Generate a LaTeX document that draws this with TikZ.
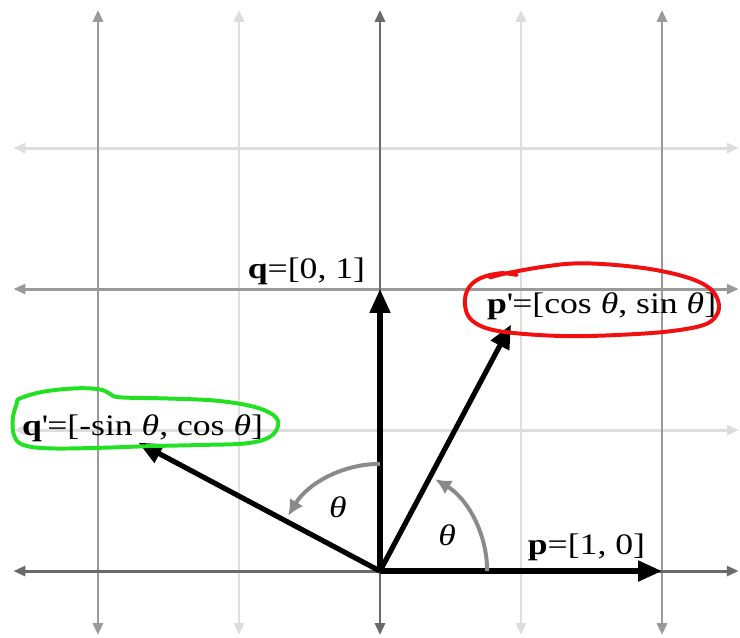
\documentclass[tikz,border=0pt]{standalone}
\usepackage{fontspec}
\setmainfont{Liberation Serif}[FakeStretch=1.2]
\usetikzlibrary{arrows.meta}
\definecolor{axisgray}{HTML}{6A6A6A}
\definecolor{midgray}{HTML}{9A9A9A}
\definecolor{lightgray}{HTML}{DDDDDD}
\definecolor{arcgray}{HTML}{8A8A8A}
\definecolor{penred}{HTML}{F01010}
\definecolor{pengreen}{HTML}{22E022}

\begin{document}
\begin{tikzpicture}[x=5cm, y=5cm, font=\fontsize{15}{17}\selectfont]
% Styles:
\tikzset{gridline/.style={line width=1.5pt, {Triangle[length=6pt, width=5pt]}-{Triangle[length=6pt, width=5pt]}}}
\tikzset{vec/.style={line width=2.6pt, -{Triangle[length=12pt, width=10pt]}}}
\tikzset{anglearc/.style={arcgray, line width=2pt, -{Latex[length=8pt, width=8pt]}}}
\tikzset{pen/.style={line width=2pt, line cap=round, line join=round}}

\useasboundingbox (-1.3475,-0.234) rectangle (1.2766,2.025);

% Grid:
\foreach \x in {-0.5, 0.5} \draw[gridline, lightgray] (\x,-0.227) -- (\x,1.99);
\foreach \y in {0.5, 1.5} \draw[gridline, lightgray] (-1.3,\y) -- (1.272,\y);
\foreach \x in {-1, 1} \draw[gridline, midgray] (\x,-0.227) -- (\x,1.99);
\draw[gridline, midgray] (-1.3,1) -- (1.272,1);
\draw[gridline, axisgray] (-1.3,0) -- (1.272,0);
\draw[gridline, axisgray] (0,-0.227) -- (0,1.99);

% Points:
\coordinate (O) at (0,0);
\coordinate (p)  at (1,0);
\coordinate (q)  at (0,1);
\coordinate (p2) at (62:0.99);
\coordinate (q2) at (152:0.97);

% Vectors:
\draw[vec] (O) -- (p);
\draw[vec] (O) -- (q);
\draw[vec] (O) -- (p2);
\draw[vec] (O) -- (q2);

% Angles:
\draw[anglearc] ([shift={(0:0.38)}]O) arc[start angle=0, end angle=59, radius=0.38];
\draw[anglearc] ([shift={(90:0.38)}]O) arc[start angle=90, end angle=149, radius=0.38];
\node[] (t1) at (0.238,0.128) {\itshape θ};
\node[] (t2) at (-0.149,0.227) {\itshape θ};

% Labels:
\node[anchor=base east] (lq)  at (-0.028,1.039) {\textbf{q}=[0, 1]};
\node[anchor=base east] (lp)  at (0.965,0.057)  {\textbf{p}=[1, 0]};
\node[anchor=base west] (lp2) at (0.355,0.915)  {\textbf{p}\textquotesingle=[cos \textit{θ}, sin \textit{θ}]};
\node[anchor=base west] (lq2) at (-1.294,0.482) {\textbf{q}\textquotesingle=[-sin \textit{θ}, cos \textit{θ}]};

% Hand-drawn rings:
\draw[pen, penred] plot[smooth, tension=0.6] coordinates {
  (0.485,1.050) (0.426,1.056) (0.355,1.038) (0.313,1.002) (0.301,0.949)
  (0.319,0.896) (0.378,0.861) (0.485,0.843) (0.662,0.833) (0.839,0.837)
  (1.017,0.849) (1.146,0.872) (1.194,0.908) (1.200,0.955) (1.170,1.002)
  (1.099,1.038) (0.981,1.067) (0.839,1.085) (0.698,1.091) (0.579,1.079)
  (0.449,1.056) (0.390,1.041)};
\draw[pen, pengreen] plot[smooth cycle, tension=0.6] coordinates {
  (-1.277,0.612) (-1.194,0.636) (-1.076,0.648) (-0.993,0.644) (-0.957,0.628)
  (-0.922,0.616) (-0.756,0.612) (-0.579,0.604) (-0.449,0.583) (-0.378,0.553)
  (-0.361,0.518) (-0.390,0.476) (-0.473,0.453) (-0.638,0.447) (-0.816,0.443)
  (-0.993,0.437) (-1.170,0.435) (-1.265,0.447) (-1.298,0.482) (-1.302,0.541)
  (-1.288,0.594)};
\end{tikzpicture}
\end{document}
